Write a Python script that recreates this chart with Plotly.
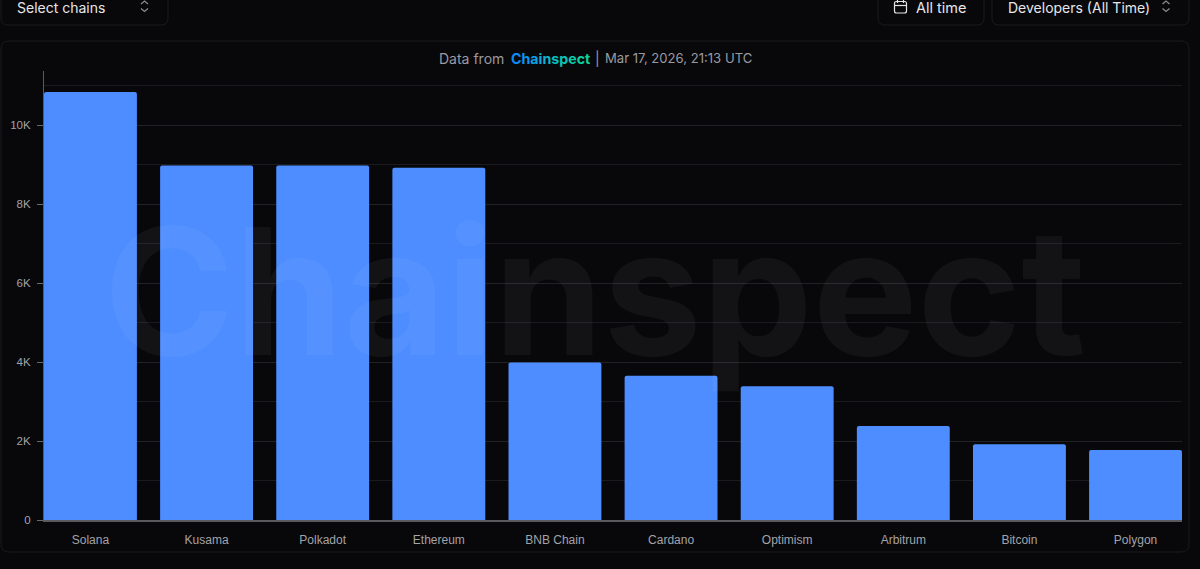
import plotly.graph_objects as go

chains = ["Solana", "Kusama", "Polkadot", "Ethereum", "BNB Chain", "Cardano", "Optimism", "Arbitrum", "Bitcoin", "Polygon"]
developers = [10840, 8980, 8980, 8920, 3990, 3650, 3390, 2380, 1920, 1770]
y_ticks = [0, 2000, 4000, 6000, 8000, 10000]
y_labels = ["0", "2K", "4K", "6K", "8K", "10K"]
brand = "Chainspect"
brand_colors = ["#0a8cf5", "#0a97ec", "#0aa2e2", "#0aadd6", "#0ab5cb", "#0abcbf", "#0ac4b4", "#0acba9", "#0ad1a0", "#0ad69a"]

W, H = 1200, 569
BG = "#08080b"
BORDER = "#1a1a1e"
HEAD = "Inter"
ML, MR, MT, MB = 44, 18, 71, 49
PW, PH = W - ML - MR, H - MT - MB


def px(x):
    return (x - ML) / PW


def py(y):
    return (H - MB - y) / PH


def rrect(x0, y0, x1, y1, r):
    return (f"M{px(x0+r)},{py(y0)} L{px(x1-r)},{py(y0)} Q{px(x1)},{py(y0)} {px(x1)},{py(y0+r)} "
            f"L{px(x1)},{py(y1-r)} Q{px(x1)},{py(y1)} {px(x1-r)},{py(y1)} L{px(x0+r)},{py(y1)} "
            f"Q{px(x0)},{py(y1)} {px(x0)},{py(y1-r)} L{px(x0)},{py(y0+r)} Q{px(x0)},{py(y0)} {px(x0+r)},{py(y0)} Z")


def line_path(points):
    return "M" + " L".join(f"{px(a)},{py(b)}" for a, b in points)


def chevrons(cx):
    return [line_path([(cx - 3.5, 4), (cx, 1), (cx + 3.5, 4)]), line_path([(cx - 3.5, 8.5), (cx, 11.5), (cx + 3.5, 8.5)])]


ICON = dict(color="#e4e4e6", width=1.2)
shapes = []
for box in [(1, -12, 168, 25, 7), (878, -12, 984, 25, 7), (992, -12, 1189, 25, 7), (1, 41, 1189, 552, 8)]:
    shapes.append(dict(type="path", xref="paper", yref="paper", path=rrect(*box), line=dict(color=BORDER, width=1), layer="below"))
for cx in (144.5, 1166):
    for p in chevrons(cx):
        shapes.append(dict(type="path", xref="paper", yref="paper", path=p, line=dict(color="#8a8a8e", width=1.3)))
shapes.append(dict(type="path", xref="paper", yref="paper", path=rrect(894.5, 1.5, 906.5, 13, 2), line=ICON))
for pts in ([(894.5, 5.5), (906.5, 5.5)], [(897.5, 0), (897.5, 3)], [(903.5, 0), (903.5, 3)]):
    shapes.append(dict(type="path", xref="paper", yref="paper", path=line_path(pts), line=ICON))

brand_html = "".join(f'<span style="color:{c}"><b>{ch}</b></span>' for ch, c in zip(brand, brand_colors))


def label(text, x, y, size, color, anchor="center", family=HEAD, opacity=1):
    return dict(text=text, xref="paper", yref="paper", x=px(x), y=py(y), xanchor=anchor, yanchor="middle",
                showarrow=False, font=dict(family=family, size=size, color=color), opacity=opacity)


fig = go.Figure(go.Bar(x=chains, y=developers, marker=dict(color="#4d8dff", line=dict(width=0), cornerradius=2), hoverinfo="x+y"))
fig.update_layout(
    width=W, height=H, autosize=False,
    margin=dict(l=ML, r=MR, t=MT, b=MB, pad=0),
    paper_bgcolor=BG, plot_bgcolor=BG, showlegend=False, bargap=0.2,
    shapes=shapes,
    annotations=[
        label("Select chains", 15, 7, 14, "#e6e6e8", "left"),
        label("All time", 914, 7, 14.5, "#e6e6e8", "left"),
        label("Developers (All Time)", 1006, 7, 14, "#e6e6e8", "left"),
        label("Data from", 437, 58, 14, "#9a9aa0", "left"),
        label(brand_html, 509, 58, 14.2, "#9a9aa0", "left"),
        label("|", 593, 58, 14, "#9a9aa0", "left"),
        label("Mar 17, 2026, 21:13 UTC", 603, 58, 13.1, "#9a9aa0", "left"),
        label("<b>Chainspect</b>", 595, 290, 176, "#ffffff", family="Inter", opacity=0.045),
    ],
    xaxis=dict(type="category", range=[-0.4, 9.4], showgrid=False, ticks="", showline=True, linecolor="#5a5a5e", linewidth=2,
               automargin=False,
               tickfont=dict(family="Liberation Sans", size=12, color="#a3a3a8"), ticklabelstandoff=8),
    yaxis=dict(range=[0, 11370], tickvals=y_ticks, ticktext=y_labels, showline=True, linecolor="#5a5a5e", linewidth=1,
               automargin=False,
               ticks="outside", ticklen=6, tickcolor="#6a6a6e", tickwidth=1, gridcolor="#222226", gridwidth=1, zeroline=False,
               tickfont=dict(family="Liberation Sans", size=11.5, color="#a3a3a8"), ticklabelstandoff=4,
               minor=dict(dtick=1000, showgrid=True, gridcolor="#1b1b1f", gridwidth=1, ticks="")),
)
fig.write_html("out.html", config=dict(displayModeBar=False),
               post_script=f"document.body.style.margin='0';document.body.style.background='{BG}';")
